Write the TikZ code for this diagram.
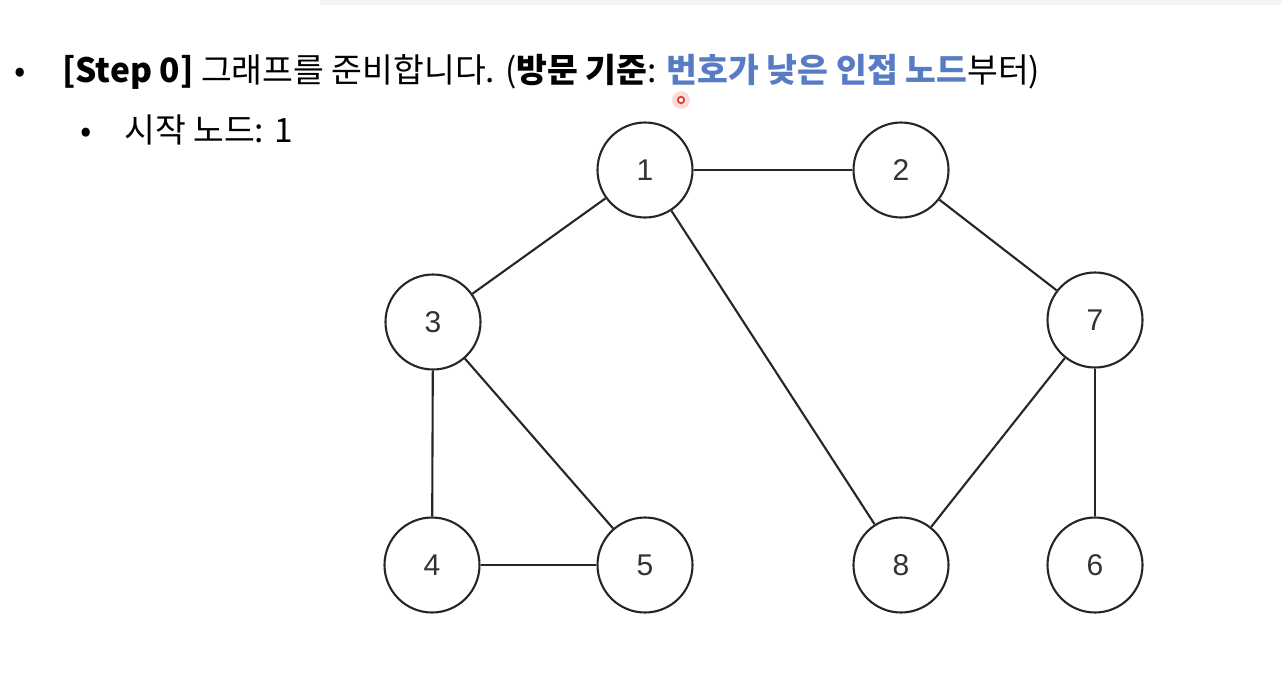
\documentclass[tikz,border=0pt]{standalone}
\usepackage{fontspec}
\setmainfont{Liberation Sans}
\newfontfamily\kr{Noto Sans CJK KR}
\newfontfamily\num{Liberation Sans}
\definecolor{hlblue}{RGB}{88,124,196}
\definecolor{dotred}{RGB}{230,60,40}
\definecolor{halo}{RGB}{250,205,200}
\begin{document}
\begin{tikzpicture}[x=1pt,y=-1pt,
  vnode/.style={circle,draw=black!85,line width=2.1pt,minimum size=95pt,inner sep=0pt,font=\num\fontsize{30}{30}\selectfont,text=black!80},
  edge/.style={draw=black!85,line width=2.1pt},
  txt/.style={anchor=base west,inner sep=0pt,font=\kr\fontsize{33.5}{33.5}\selectfont}]
\useasboundingbox (0,0) rectangle (1282,686);
\fill[white] (0,0) rectangle (1282,686);
\fill[black!4] (320,0) rectangle (1282,5);
% text
\node[txt] (b1) at (14,82) {•};
\node[txt] (t1) at (62,82) {\textbf{[Step 0]} 그래프를 준비합니다. (\textbf{방문 기준}: \textcolor{hlblue}{\textbf{번호가 낮은 인접 노드}}부터)};
\node[txt] (b2) at (80,142) {•};
\node[txt] (t2) at (124,142) {시작 노드: 1};
% red pointer dot
\fill[halo,opacity=0.7] (681,100) circle (9);
\draw[dotred,line width=1.8pt,fill=white] (681,100) circle (3.2);
% nodes
\node[vnode] (n1) at (645,170) {1};
\node[vnode] (n2) at (901,170) {2};
\node[vnode] (n3) at (433,322) {3};
\node[vnode] (n7) at (1095,320) {7};
\node[vnode] (n4) at (432,565) {4};
\node[vnode] (n5) at (645,565) {5};
\node[vnode] (n8) at (901,565) {8};
\node[vnode] (n6) at (1095,565) {6};
% edges
\draw[edge] (n1) -- (n2);
\draw[edge] (n1) -- (n3);
\draw[edge] (n1) -- (n8);
\draw[edge] (n2) -- (n7);
\draw[edge] (n3) -- (n4);
\draw[edge] (n3) -- (n5);
\draw[edge] (n4) -- (n5);
\draw[edge] (n7) -- (n8);
\draw[edge] (n7) -- (n6);
\end{tikzpicture}
\end{document}
